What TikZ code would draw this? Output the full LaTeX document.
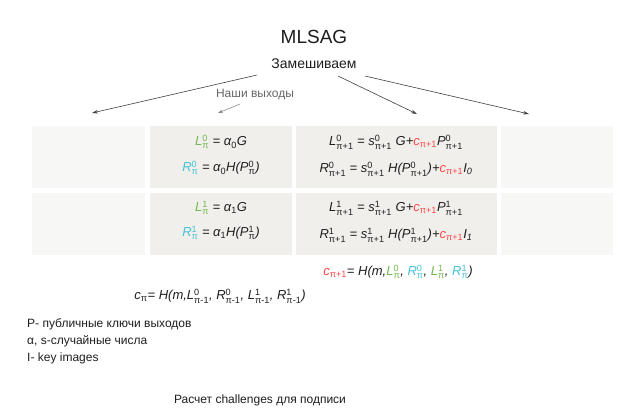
\documentclass[tikz,border=0pt]{standalone}
\usepackage{amsmath}
\usepackage{fontspec}
\setmainfont{Liberation Sans}
\usetikzlibrary{arrows.meta}
\definecolor{cgreen}{HTML}{72B84C}
\definecolor{ccyan}{HTML}{45C2D6}
\definecolor{cred}{HTML}{FF4646}
\definecolor{boxa}{HTML}{F7F7F5}
\definecolor{boxb}{HTML}{F0EFEC}
\definecolor{ink}{HTML}{1E1E1E}
\newcommand\ud[2]{$^{\text{\upshape #1}}_{\text{\upshape #2}}$}
\newcommand\dn[1]{$_{\text{\upshape #1}}$}
\newcommand\gL[2]{{\color{cgreen}L\ud{#1}{#2}}}
\newcommand\cR[2]{{\color{ccyan}R\ud{#1}{#2}}}
\newcommand\rc{{\color{cred}c\dn{π+1}}}
\begin{document}
\begin{tikzpicture}[x=1pt,y=-1pt,
  cellA/.style={fill=boxa,draw=none,inner sep=0pt},
  cellB/.style={fill=boxb,draw=none,inner sep=0pt},
  formula/.style={font=\fontsize{13}{16}\selectfont\itshape,text=ink,align=center,inner sep=0pt},
  arr/.style={draw=ink!85,line width=0.6pt,-{Stealth[length=6pt,width=3.6pt]}},
  smallarr/.style={draw=black!50,line width=0.5pt,-{Stealth[length=5pt,width=3pt]}}]
\useasboundingbox (0,0) rectangle (628,416);
\fill[white] (0,0) rectangle (628,416);
% cells
\path[cellA] (32,126) rectangle (145,188) node[pos=0.5] (a1) {};
\path[cellB] (150,126) rectangle (292,188) node[pos=0.5] (b1) {};
\path[cellB] (296,126) rectangle (497,188) node[pos=0.5] (c1) {};
\path[cellA] (501,126) rectangle (613,188) node[pos=0.5] (d1) {};
\path[cellA] (32,193) rectangle (145,255) node[pos=0.5] (a2) {};
\path[cellB] (150,193) rectangle (292,255) node[pos=0.5] (b2) {};
\path[cellB] (296,193) rectangle (497,255) node[pos=0.5] (c2) {};
\path[cellA] (501,193) rectangle (613,255) node[pos=0.5] (d2) {};
% titles
\node[font=\fontsize{19}{22}\selectfont,text=ink] (title) at (314,37) {MLSAG};
\node[font=\fontsize{14}{16}\selectfont,text=ink] (mix) at (314,64) {Замешиваем};
\node[font=\fontsize{12}{14}\selectfont,text=black!60] (ours) at (255,95) {Наши выходы};
% arrows
\coordinate (s1) at (257,75);
\coordinate (s2) at (338,76);
\coordinate (s3) at (365,76);
\coordinate (t1) at (92,113);
\coordinate (t2) at (417,114);
\coordinate (t3) at (529,114);
\coordinate (s4) at (240,104);
\coordinate (t4) at (218,113);
\draw[arr] (s1) -- (t1);
\draw[arr] (s2) -- (t2);
\draw[arr] (s3) -- (t3);
\draw[smallarr] (s4) -- (t4);
% formulas column 2
\node[formula] (f1) at (221,142) {\gL{0}{π} = α\dn{0}G};
\node[formula] (f2) at (221,168) {\cR{0}{π} = α\dn{0}H(P\ud{0}{π})};
\node[formula] (f3) at (221,208) {\gL{1}{π} = α\dn{1}G};
\node[formula] (f4) at (221,233) {\cR{1}{π} = α\dn{1}H(P\ud{1}{π})};
% formulas column 3
\node[formula] (g1) at (396,142) {L\ud{0}{π+1} = s\ud{0}{π+1} G+\rc P\ud{0}{π+1}};
\node[formula] (g2) at (396,169) {R\ud{0}{π+1} = s\ud{0}{π+1} H(P\ud{0}{π+1})+\rc I\dn{\itshape 0}};
\node[formula] (g3) at (396,208) {L\ud{1}{π+1} = s\ud{1}{π+1} G+\rc P\ud{1}{π+1}};
\node[formula] (g4) at (396,235) {R\ud{1}{π+1} = s\ud{1}{π+1} H(P\ud{1}{π+1})+\rc I\dn{\itshape 1}};
% challenges
\node[formula] (cn1) at (398,272) {\rc= H(m,\gL{0}{π}, \cR{0}{π}, \gL{1}{π}, \cR{1}{π})};
\node[formula] (cn) at (220,296) {c\dn{π}= H(m,L\ud{0}{π-1}, R\ud{0}{π-1}, L\ud{1}{π-1}, R\ud{1}{π-1})};
% legend
\node[font=\fontsize{12}{17}\selectfont,text=ink,align=left,anchor=north west,inner sep=0pt] (legend) at (27,318)
  {P- публичные ключи выходов\\α, s-случайные числа\\I- key images};
\node[font=\fontsize{12}{14}\selectfont,text=ink] (caption) at (260,400) {Расчет challenges для подписи};
\end{tikzpicture}
\end{document}
